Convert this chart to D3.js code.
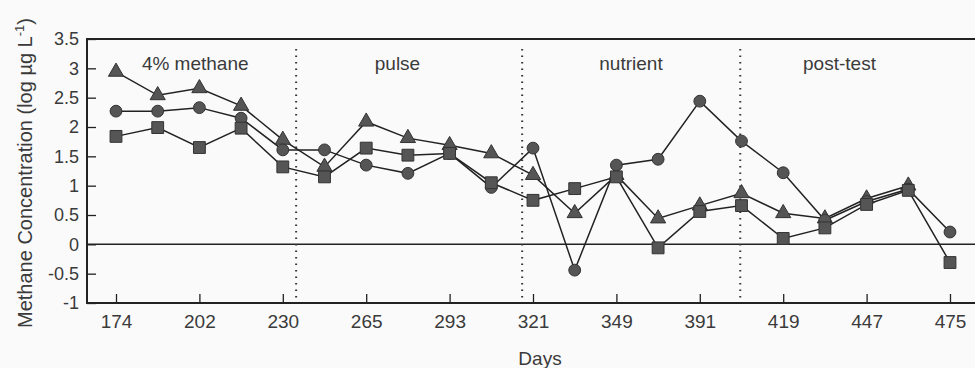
<!DOCTYPE html>
<html>
<head>
<meta charset="utf-8">
<script src="https://cdn.jsdelivr.net/npm/d3@7"></script>
<style>
  html, body { margin: 0; padding: 0; background: #fafafa; }
  svg { display: block; font-family: "Liberation Sans", Arial, sans-serif; }
</style>
</head>
<body>
<svg id="chart" width="975" height="368"></svg>
<script>
// sampling days (only every other one is labelled on the axis)
const days = [174, 188, 202, 216, 230, 244, 265, 279, 293, 307, 321, 335, 349, 363, 391, 405, 419, 433, 447, 461, 475];

// methane concentration, log ug/L
const triangleSeries = [2.94, 2.54, 2.66, 2.36, 1.78, 1.32, 2.09, 1.81, 1.69, 1.55, 1.18, 0.53, 1.18, 0.44, 0.66, 0.87, 0.53, 0.44, 0.78, 1.0, null];
const circleSeries = [2.27, 2.27, 2.33, 2.15, 1.61, 1.61, 1.35, 1.21, 1.55, 0.97, 1.64, -0.44, 1.35, 1.45, 2.44, 1.76, 1.22, 0.41, 0.73, 0.94, 0.21];
const squareSeries = [1.84, 1.99, 1.65, 1.98, 1.32, 1.15, 1.64, 1.52, 1.55, 1.05, 0.75, 0.95, 1.15, -0.06, 0.56, 0.66, 0.10, 0.28, 0.68, 0.92, -0.31];

const yTicks = [-1, -0.5, 0, 0.5, 1, 1.5, 2, 2.5, 3, 3.5];

// experiment phases; breaks and label centres are in sample-index units
const phases = ['4% methane', 'pulse', 'nutrient', 'post-test'];
const phaseBreaks = [4.32, 9.74, 14.97];
const phaseCenters = [1.9, 6.75, 12.35, 17.35];

const svg = d3.select('#chart');
const m = { left: 87, top: 39, right: 975, bottom: 303 };

const x = d3.scaleLinear().domain([0, days.length - 1]).range([116, 950]);
const y = d3.scaleLinear().domain([-1, 3.5]).range([m.bottom, m.top]);

const ink = '#222';
const textColor = '#3a3a3a';

// x axis, ticks pointing inward
const xAxis = d3.axisBottom(x)
  .tickValues(d3.range(0, days.length, 2))
  .tickFormat(i => days[i])
  .tickSizeInner(-9)
  .tickSizeOuter(0)
  .tickPadding(12);

svg.append('g')
  .attr('transform', `translate(0,${m.bottom})`)
  .call(xAxis)
  .call(g => g.select('.domain').remove())
  .call(g => g.selectAll('line').attr('stroke', ink).attr('stroke-width', 1.3))
  .call(g => g.selectAll('text').attr('font-size', 19).attr('fill', textColor).attr('font-family', null));

const yAxis = d3.axisLeft(y)
  .tickValues(yTicks)
  .tickFormat(d => String(d))
  .tickSizeInner(-9)
  .tickSizeOuter(0)
  .tickPadding(8);

svg.append('g')
  .attr('transform', `translate(${m.left},0)`)
  .call(yAxis)
  .call(g => g.select('.domain').remove())
  .call(g => g.selectAll('line').attr('stroke', ink).attr('stroke-width', 1.3))
  .call(g => g.selectAll('text').attr('font-size', 18).attr('fill', textColor).attr('font-family', null));

// frame (no right border) and zero line
const frame = svg.append('g').attr('stroke', ink).attr('fill', 'none');
frame.append('path').attr('d', `M${m.right},${m.top}H${m.left}V${m.bottom}H${m.right}`).attr('stroke-width', 2);
frame.append('line')
  .attr('x1', m.left).attr('x2', m.right)
  .attr('y1', y(0)).attr('y2', y(0))
  .attr('stroke-width', 1.5);

// phase separators
svg.append('g')
  .selectAll('line')
  .data(phaseBreaks)
  .join('line')
  .attr('x1', d => x(d)).attr('x2', d => x(d))
  .attr('y1', m.top + 10).attr('y2', m.bottom - 4)
  .attr('stroke', '#333')
  .attr('stroke-width', 2)
  .attr('stroke-dasharray', '1.5,5');

svg.append('g')
  .selectAll('text')
  .data(phases)
  .join('text')
  .attr('x', (d, i) => x(phaseCenters[i]))
  .attr('y', 70)
  .attr('text-anchor', 'middle')
  .attr('font-size', 19)
  .attr('fill', textColor)
  .text(d => d);

// series lines
const line = d3.line()
  .defined(d => d != null)
  .x((d, i) => x(i))
  .y(d => y(d));

const series = [
  { values: triangleSeries, shape: d3.symbolTriangle, size: 100 },
  { values: circleSeries, shape: d3.symbolCircle, size: 110 },
  { values: squareSeries, shape: d3.symbolSquare, size: 140 }
];

svg.append('g')
  .attr('fill', 'none')
  .attr('stroke', ink)
  .attr('stroke-width', 1.5)
  .selectAll('path')
  .data(series)
  .join('path')
  .attr('d', s => line(s.values));

series.forEach(s => {
  svg.append('g')
    .selectAll('path')
    .data(s.values.map((v, i) => ({ v, i })).filter(d => d.v != null))
    .join('path')
    .attr('transform', d => `translate(${x(d.i)},${y(d.v)})`)
    .attr('d', d3.symbol(s.shape, s.size))
    .attr('fill', '#555')
    .attr('stroke', '#333')
    .attr('stroke-width', 1);
});

// axis titles
svg.append('text')
  .attr('x', 540)
  .attr('y', 365)
  .attr('text-anchor', 'middle')
  .attr('font-size', 19)
  .attr('fill', textColor)
  .text('Days');

const yTitle = svg.append('text')
  .attr('transform', 'translate(32,173) rotate(-90)')
  .attr('text-anchor', 'middle')
  .attr('font-size', 20)
  .attr('fill', textColor);
yTitle.append('tspan').text('Methane Concentration (log µg L');
yTitle.append('tspan').attr('font-size', 13).attr('dy', -8).text('-1');
yTitle.append('tspan').attr('dy', 8).text(')');
</script>
</body>
</html>
